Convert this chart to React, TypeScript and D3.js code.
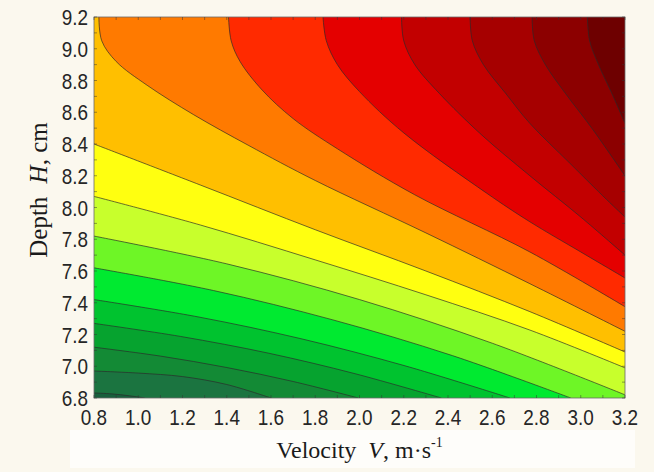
import React from "react";
import * as d3 from "d3";

const vTicks = [0.8, 1.0, 1.2, 1.4, 1.6, 1.8, 2.0, 2.2, 2.4, 2.6, 2.8, 3.0, 3.2];
const hTicks = [6.8, 7.0, 7.2, 7.4, 7.6, 7.8, 8.0, 8.2, 8.4, 8.6, 8.8, 9.0, 9.2];

const bandColors = [
  "#185f3c", "#1b7440", "#138a35", "#06a32f", "#00c32f", "#00ea30",
  "#6ef626", "#c8ff2c", "#ffff10", "#ffbf00", "#ff7a00", "#ff2a00",
  "#e40000", "#c20000", "#a60000", "#8c0000", "#6e0000",
];

// contour lines, [velocity, depth]
const line0 = [[0.8, 6.832], [0.88, 6.826], [0.96, 6.814], [1.03, 6.8]];
const line1 = [[0.8, 6.97], [1.0, 6.957], [1.2, 6.935], [1.4, 6.885], [1.6, 6.8]];
const line2 = [[0.8, 7.12], [1.1, 7.064], [1.4, 6.992], [1.7, 6.904], [1.995, 6.8]];
const line3 = [[0.8, 7.27], [1.19, 7.188], [1.59, 7.082], [1.98, 6.953], [2.37, 6.8]];
const line4 = [[0.8, 7.42], [1.27, 7.311], [1.74, 7.172], [2.21, 7.001], [2.68, 6.8]];
const line5 = [[0.8, 7.62], [1.34, 7.477], [1.88, 7.292], [2.42, 7.067], [2.955, 6.8]];
const line6 = [[0.8, 7.82], [1.4, 7.645], [2.0, 7.42], [2.6, 7.145], [3.2, 6.82]];
const line7 = [[0.8, 8.07], [1.28, 7.89], [1.8, 7.67], [2.3, 7.45], [2.77, 7.228], [3.2, 6.99]];
const line8 = [[0.8, 8.4], [1.28, 8.142], [1.8, 7.86], [2.3, 7.6], [2.77, 7.344], [3.2, 7.09]];
const line9 = [[0.822, 9.2], [0.835, 9.05], [0.9, 8.92], [1.04, 8.77], [1.25, 8.585], [1.5, 8.39], [1.8, 8.17], [2.3, 7.84], [2.77, 7.52], [3.2, 7.22]];
const line10 = [[1.408, 9.2], [1.42, 9.05], [1.46, 8.92], [1.56, 8.74], [1.7, 8.56], [1.9, 8.37], [2.25, 8.08], [2.77, 7.72], [3.2, 7.375]];
const line11 = [[1.835, 9.2], [1.85, 9.05], [1.9, 8.9], [2.0, 8.73], [2.2, 8.47], [2.575, 8.09], [2.77, 7.91], [3.0, 7.72], [3.2, 7.556]];
const line12 = [[2.19, 9.2], [2.2, 9.05], [2.25, 8.9], [2.36, 8.72], [2.55, 8.46], [2.77, 8.2], [3.0, 7.94], [3.2, 7.7]];
const line13 = [[2.5, 9.2], [2.51, 9.05], [2.56, 8.9], [2.66, 8.72], [2.77, 8.53], [2.95, 8.28], [3.117, 8.05], [3.2, 7.94]];
const line14 = [[2.78, 9.2], [2.79, 9.05], [2.84, 8.9], [2.93, 8.72], [3.05, 8.5], [3.2, 8.2]];
const line15 = [[3.03, 9.2], [3.04, 9.05], [3.08, 8.9], [3.14, 8.72], [3.2, 8.53]];

const contourLines = [line0, line1, line2, line3, line4, line5, line6, line7, line8, line9, line10, line11, line12, line13, line14, line15];

const W = 654, H = 472;
const X0 = 94, X1 = 625, Y0 = 17, Y1 = 398;

export default function App() {
  const x = d3.scaleLinear().domain([0.8, 3.2]).range([X0, X1]);
  const y = d3.scaleLinear().domain([6.8, 9.2]).range([Y1, Y0]);
  const lineGen = d3.line<number[]>().x((d) => x(d[0])).y((d) => y(d[1])).curve(d3.curveCatmullRom.alpha(0.5));

  const regionPath = (pts: number[][]) => {
    const first = pts[0];
    const last = pts[pts.length - 1];
    let d = lineGen(pts) as string;
    if (Math.abs(last[1] - 6.8) < 1e-6) d += `L${x(3.2)},${y(6.8)}`;
    d += `L${x(3.2)},${y(9.2)}`;
    if (Math.abs(first[0] - 0.8) < 1e-6) d += `L${x(0.8)},${y(9.2)}`;
    return d + "Z";
  };

  const minorV = d3.range(8, 33).map((v) => v / 10);
  const minorH = d3.range(68, 93).map((v) => v / 10);

  return (
    <svg width={W} height={H} style={{ position: "absolute", left: 0, top: 0, display: "block" }}>
      <rect x={0} y={0} width={W} height={H} fill="#fbf8ee" />
      <rect x={70} y={430} width={565} height={38} fill="#fefdfa" />
      <defs>
        <clipPath id="plotclip">
          <rect x={X0} y={Y0} width={X1 - X0} height={Y1 - Y0} />
        </clipPath>
      </defs>
      <g clipPath="url(#plotclip)">
        <rect x={X0} y={Y0} width={X1 - X0} height={Y1 - Y0} fill={bandColors[0]} />
        {contourLines.map((pts, i) => (
          <path key={"r" + i} d={regionPath(pts)} fill={bandColors[i + 1]} stroke="none" />
        ))}
        {contourLines.map((pts, i) => (
          <path key={"l" + i} d={lineGen(pts) as string} fill="none" stroke="#2a2a2a" strokeOpacity={0.75} strokeWidth={0.9} />
        ))}
      </g>
      <rect x={X0} y={Y0} width={X1 - X0} height={Y1 - Y0} fill="none" stroke="#6a6a6a" strokeWidth={0.8} />
      <g stroke="#333" strokeOpacity={0.6} strokeWidth={0.8}>
        {minorV.map((v) => (
          <g key={"mv" + v}>
            <line x1={x(v)} x2={x(v)} y1={Y0} y2={Y0 + 3} />
            <line x1={x(v)} x2={x(v)} y1={Y1} y2={Y1 - 3} />
          </g>
        ))}
        {minorH.map((h) => (
          <g key={"mh" + h}>
            <line x1={X0} x2={X0 + 3} y1={y(h)} y2={y(h)} />
            <line x1={X1} x2={X1 - 3} y1={y(h)} y2={y(h)} />
          </g>
        ))}
      </g>
      <g fontFamily="'Liberation Sans', Arial, sans-serif" fontSize={22} fill="#262626">
        {hTicks.map((h) => (
          <text key={"yt" + h} transform={`translate(88,${y(h) + 8}) scale(0.86,1)`} textAnchor="end">{h.toFixed(1)}</text>
        ))}
        {vTicks.map((v) => (
          <text key={"xt" + v} transform={`translate(${x(v)},425) scale(0.86,1)`} textAnchor="middle">{v.toFixed(1)}</text>
        ))}
      </g>
      <text x={(X0 + X1) / 2} y={458} textAnchor="middle" fontFamily="'Liberation Serif', 'Times New Roman', serif" fontSize={24} fill="#1a1a1a">
        Velocity <tspan fontStyle="italic" dx={6}>V</tspan>, m·s<tspan fontSize={14} dy={-11}>-1</tspan>
      </text>
      <text transform={`translate(47,190) rotate(-90)`} textAnchor="middle" fontFamily="'Liberation Serif', 'Times New Roman', serif" fontSize={25} fill="#1a1a1a">
        Depth <tspan fontStyle="italic" dx={7}>H</tspan>, cm
      </text>
    </svg>
  );
}
